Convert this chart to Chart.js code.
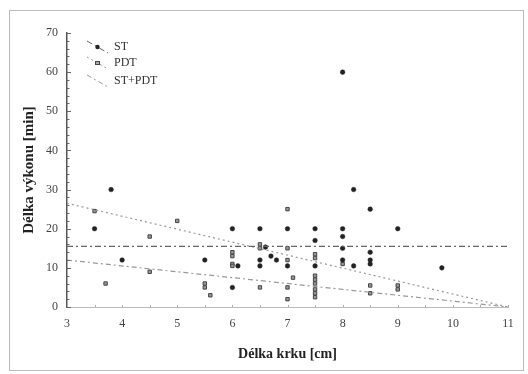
<!DOCTYPE html>
<html>
<head>
<meta charset="utf-8">
<script src="https://cdn.jsdelivr.net/npm/chart.js@4.4.0/dist/chart.umd.min.js"></script>
<style>
  html, body { margin: 0; padding: 0; background: #fff; }
  #chart { display: block; }
</style>
</head>
<body>
<canvas id="chart" width="528" height="374"></canvas>
<script>
// ST (filled dots)
const stX = [3.5, 3.8, 4, 5.5, 6, 6.1, 6, 6.5, 6.5, 6.5, 6.6, 6.7, 6.8, 7, 7, 7.5, 7.5, 7.5, 8, 8, 8, 8, 8, 8.2, 8.2, 8.5, 8.5, 8.5, 8.5, 9, 9.8];
const stY = [20, 30, 12, 12, 20, 10.5, 5, 20, 12, 10.5, 15.3, 13, 12, 20, 10.5, 20, 17, 10.5, 60, 20, 18, 15, 12, 30, 10.5, 25, 14, 12, 11, 20, 10];

// PDT (squares)
const pdtX = [3.5, 3.7, 4.5, 4.5, 5, 5.5, 5.5, 5.6, 6, 6, 6, 6, 6.5, 6.5, 6.5, 7, 7, 7, 7.1, 7, 7, 7.5, 7.5, 7.5, 7.5, 7.5, 7.5, 7.5, 7.5, 8, 8.5, 8.5, 9, 9];
const pdtY = [24.5, 6, 18, 9, 22, 6, 5, 3, 14, 13, 11, 10.5, 16, 15, 5, 25, 15, 12, 7.5, 5, 2, 13.5, 12.5, 8, 7, 6, 4.5, 3.5, 2.5, 11, 5.5, 3.5, 5.5, 4.5];

// regression lines, endpoints
const lineX = [3, 11];
const stLineY = [15.5, 15.5];
const pdtLineY = [26.5, 0];
const bothLineY = [12, 0];

const legendLabels = ['ST', 'PDT', 'ST+PDT'];
const xTitle = 'Délka krku [cm]';
const yTitle = 'Délka výkonu [min]';

const serif = "'Liberation Serif', 'DejaVu Serif', serif";

function toPoints(xs, ys) {
    return xs.map((x, i) => ({ x, y: ys[i] }));
}

function lineDataset(ys, color, dash) {
    return {
        type: 'line',
        data: toPoints(lineX, ys),
        borderColor: color,
        borderWidth: 1.2,
        borderDash: dash,
        pointRadius: 0,
        fill: false,
    };
}

// frame, minor ticks and the hand-drawn legend
const decorPlugin = {
    id: 'decor',
    beforeDraw(chart) {
        const ctx = chart.ctx;
        ctx.save();
        ctx.strokeStyle = '#bbb';
        ctx.lineWidth = 1;
        ctx.strokeRect(9.5, 10.5, 514, 360);
        ctx.restore();
    },
    afterDraw(chart) {
        const ctx = chart.ctx;
        const yScale = chart.scales.y;
        const xScale = chart.scales.x;
        ctx.save();
        ctx.strokeStyle = '#666';
        ctx.lineWidth = 1;
        for (let v = 0; v <= 70; v += 2) {
            const py = Math.round(yScale.getPixelForValue(v)) + 0.5;
            ctx.beginPath();
            ctx.moveTo(xScale.left, py);
            ctx.lineTo(xScale.left + (v % 10 === 0 ? 4 : 2.5), py);
            ctx.stroke();
        }
        ctx.strokeStyle = '#aaa';
        for (let v = 3; v <= 11; v += 0.5) {
            const px = Math.round(xScale.getPixelForValue(v)) + 0.5;
            ctx.beginPath();
            ctx.moveTo(px, yScale.bottom);
            ctx.lineTo(px, yScale.bottom - 2);
            ctx.stroke();
        }

        // legend
        const rows = [
            { y: 47, marker: 'dot', dash: [6, 3, 2, 3], color: '#666' },
            { y: 63, marker: 'square', dash: [2, 3], color: '#999' },
            { y: 81, marker: null, dash: [5, 3, 2, 3], color: '#999' },
        ];
        rows.forEach((r, i) => {
            ctx.strokeStyle = r.color;
            ctx.lineWidth = 1;
            ctx.setLineDash(r.dash);
            ctx.beginPath();
            ctx.moveTo(87, r.y - 6);
            ctx.lineTo(108, r.y + 6);
            ctx.stroke();
            ctx.setLineDash([]);
            if (r.marker === 'dot') {
                ctx.fillStyle = '#222';
                ctx.beginPath();
                ctx.arc(97.5, r.y, 2.2, 0, Math.PI * 2);
                ctx.fill();
            } else if (r.marker === 'square') {
                ctx.fillStyle = '#aaa';
                ctx.strokeStyle = '#444';
                ctx.fillRect(95.5, r.y - 1.5, 4, 3);
                ctx.strokeRect(95.5, r.y - 1.5, 4, 3);
            }
            ctx.fillStyle = '#333';
            ctx.font = '12px ' + serif;
            ctx.textBaseline = 'middle';
            ctx.textAlign = 'left';
            ctx.fillText(legendLabels[i], 114, r.y);
        });
        ctx.restore();
    }
};

const ctx = document.getElementById('chart').getContext('2d');
new Chart(ctx, {
    type: 'scatter',
    data: {
        datasets: [
            lineDataset(stLineY, '#666', [6, 3, 2, 3]),
            lineDataset(pdtLineY, '#999', [2, 3]),
            lineDataset(bothLineY, '#999', [5, 3, 2, 3]),
            {
                label: 'ST',
                data: toPoints(stX, stY),
                pointStyle: 'circle',
                pointRadius: 2.3,
                backgroundColor: '#222',
                borderColor: '#222',
                borderWidth: 0.5,
            },
            {
                label: 'PDT',
                data: toPoints(pdtX, pdtY),
                pointStyle: 'rect',
                pointRadius: 2.4,
                backgroundColor: '#999',
                borderColor: '#444',
                borderWidth: 1,
            },
        ],
    },
    options: {
        responsive: false,
        animation: false,
        layout: { padding: { top: 33, right: 20, bottom: 0, left: 0 } },
        plugins: {
            legend: { display: false },
            tooltip: { enabled: false },
        },
        scales: {
            x: {
                type: 'linear',
                min: 3,
                max: 11,
                afterFit(scale) { scale.height = 67; },
                ticks: {
                    stepSize: 1,
                    padding: 10,
                    color: '#444',
                    font: { family: serif, size: 12 },
                },
                grid: { display: false, drawTicks: false },
                border: { display: true, color: '#bbb', dash: [3, 2], width: 1 },
                title: {
                    display: true,
                    text: xTitle,
                    color: '#222',
                    font: { family: serif, size: 14, weight: 'bold' },
                    padding: { top: 0, bottom: 11 },
                },
            },
            y: {
                min: 0,
                max: 70,
                afterFit(scale) { scale.width = 67; },
                ticks: {
                    stepSize: 10,
                    padding: 9,
                    color: '#444',
                    font: { family: serif, size: 12 },
                },
                grid: { display: false, drawTicks: false },
                border: { display: true, color: '#555', width: 1.5 },
                title: {
                    display: true,
                    text: yTitle,
                    color: '#222',
                    font: { family: serif, size: 15, weight: 'bold' },
                    padding: { top: 20, bottom: 0 },
                },
            },
        },
    },
    plugins: [decorPlugin],
});
</script>
</body>
</html>
